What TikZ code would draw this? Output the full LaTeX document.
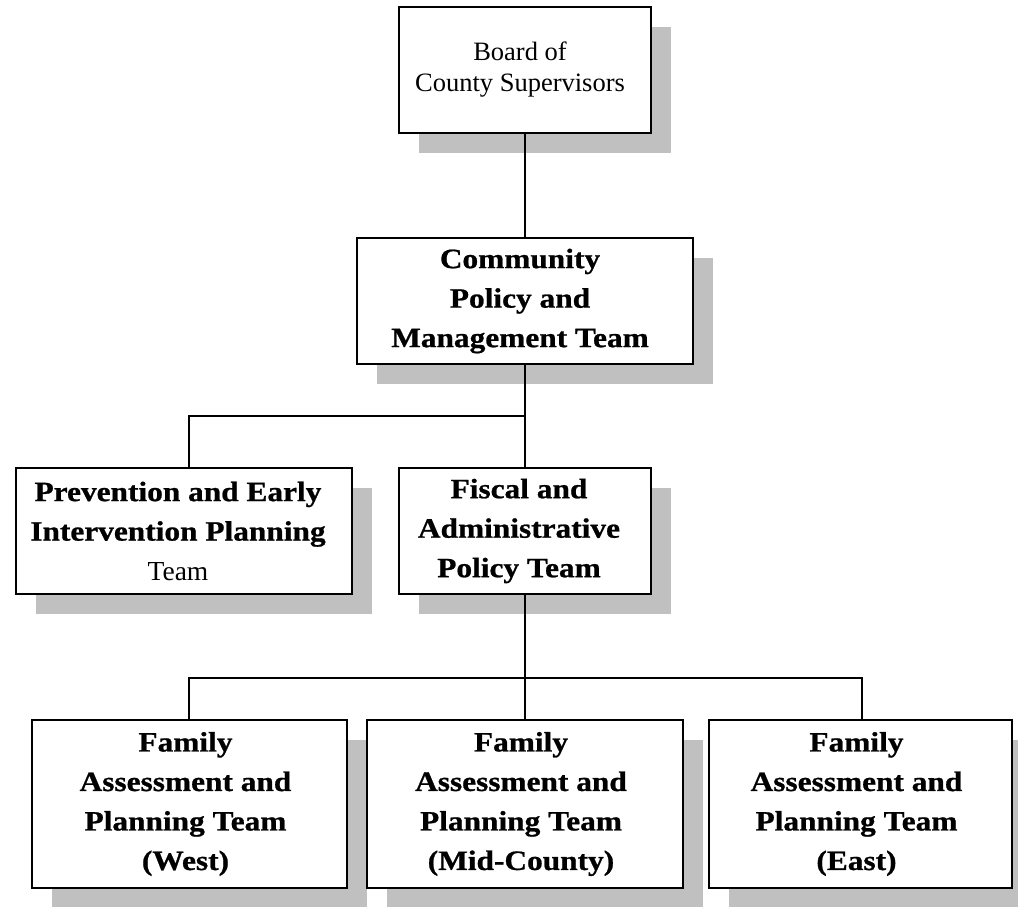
\documentclass[tikz,border=0pt]{standalone}
\usepackage{fontspec}
\setmainfont{Liberation Serif}
\newfontfamily\widebold{Liberation Serif}[FakeStretch=1.12, BoldFeatures={FakeBold=0.8}]
\usetikzlibrary{shadows}
\definecolor{shadowgray}{RGB}{192,192,192}
\begin{document}
\begin{tikzpicture}[x=1pt,y=-1pt,
  orgbox/.style={draw=black, line width=2pt, fill=white, inner sep=0pt,
    drop shadow={shadow xshift=20pt, shadow yshift=-20pt, fill=shadowgray, opacity=1}},
  boldtext/.style={inner sep=0pt, align=center,
    font=\widebold\bfseries\fontsize{28}{39.5}\selectfont},
  plaintext/.style={inner sep=0pt, align=center,
    font=\rmfamily\fontsize{26.5}{31}\selectfont},
  wire/.style={draw=black, line width=2pt}]
\clip (0,0) rectangle (1018,906);
\fill[white] (0,0) rectangle (1018,906);

% boxes
\node[orgbox, minimum width=252pt, minimum height=126pt] (board)  at (525,70)    {};
\node[orgbox, minimum width=336pt, minimum height=126pt] (cpmt)   at (525,301)   {};
\node[orgbox, minimum width=336pt, minimum height=126pt] (prev)   at (184,531)   {};
\node[orgbox, minimum width=252pt, minimum height=126pt] (fiscal) at (525,531)   {};
\node[orgbox, minimum width=315pt, minimum height=168pt] (west)   at (189.5,804) {};
\node[orgbox, minimum width=316pt, minimum height=168pt] (mid)    at (525,804)   {};
\node[orgbox, minimum width=303pt, minimum height=168pt] (east)   at (860.5,804) {};

% box texts
\node[plaintext] (boardtxt) at ([xshift=-5pt]board.center) {Board of\\County Supervisors};
\node[boldtext] (cpmttxt) at ([xshift=-5pt]cpmt.center) {Community\\Policy and\\Management Team};
\node[boldtext] (prevtxt) at ([xshift=-6pt]prev.center)
  {Prevention and Early\\Intervention Planning\\{\rmfamily\mdseries\fontsize{27.5}{39.5}\selectfont Team}};
\node[boldtext] (fiscaltxt) at ([xshift=-6pt]fiscal.center) {Fiscal and\\Administrative\\Policy Team};
\node[boldtext] (westtxt) at ([xshift=-4pt]west.center) {Family\\Assessment and\\Planning Team\\(West)};
\node[boldtext] (midtxt) at ([xshift=-4pt]mid.center) {Family\\Assessment and\\Planning Team\\(Mid-County)};
\node[boldtext] (easttxt) at ([xshift=-4pt]east.center) {Family\\Assessment and\\Planning Team\\(East)};

% connectors
\draw[wire] (board.south) -- (cpmt.north);

\coordinate (busA)  at (cpmt.south |- 0,416);
\coordinate (busAl) at (189,416);
\draw[wire] (cpmt.south) -- (busA);
\draw[wire] (busAl |- prev.north) -- (busAl) -- (busA) -- (fiscal.north);

\coordinate (busB)  at (fiscal.south |- 0,678);
\coordinate (busBl) at (189,678);
\coordinate (busBr) at (862,678);
\draw[wire] (fiscal.south) -- (busB);
\draw[wire] (busBl |- west.north) -- (busBl) -- (busBr) -- (busBr |- east.north);
\draw[wire] (busB) -- (mid.north);
\end{tikzpicture}
\end{document}
